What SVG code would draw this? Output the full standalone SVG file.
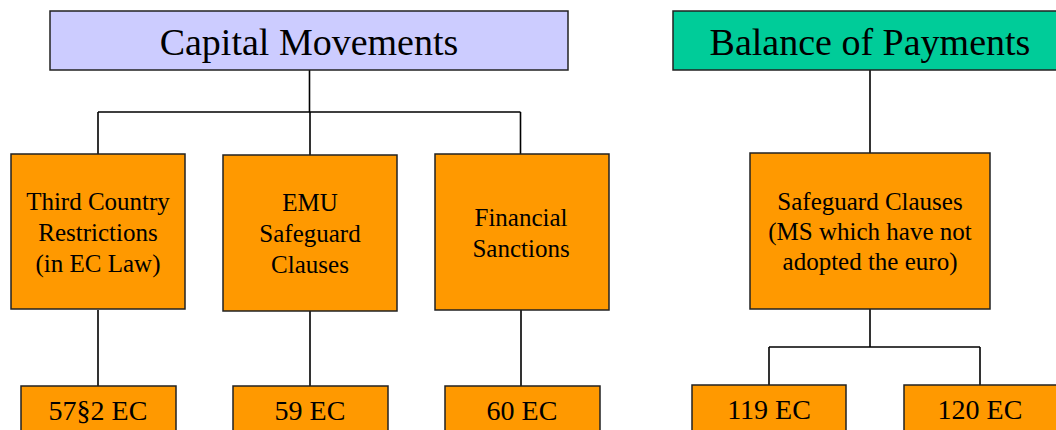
<svg xmlns="http://www.w3.org/2000/svg" width="1056" height="430" viewBox="0 0 1056 430">
<style>
.box{fill:#FF9900;stroke:#222;stroke-width:1.5}
.t{font-family:"Liberation Serif","Times New Roman",serif;fill:#000;text-anchor:middle}
.h{font-size:38px}
.m{font-size:25px}
.b{font-size:28px}
.c{fill:none;stroke:#000;stroke-width:1.6}
</style>
<rect width="1056" height="430" fill="#fff"/>
<g id="connectors">
<path class="c" d="M309.5 70V112M98 112H520.5M98 112V154M310 112V155M520.5 112V154"/>
<path class="c" d="M98 310V386M310 311V386M521 310V386"/>
<path class="c" d="M870 70V153"/>
<path class="c" d="M870 309V347M769 347H980M769 347V385M980 347V385"/>
</g>
<g id="capital">
<rect x="50" y="11" width="518" height="59" fill="#CCCCFF" stroke="#222" stroke-width="1.5"/>
<text class="t h" x="309" y="55">Capital Movements</text>
</g>
<g id="balance">
<rect x="673" y="11" width="394" height="59" fill="#00CC99" stroke="#222" stroke-width="1.5"/>
<text class="t h" x="870" y="55">Balance of Payments</text>
</g>
<g id="third">
<rect class="box" x="11" y="154" width="174" height="155"/>
<text class="t m" x="98" y="210">Third Country</text>
<text class="t m" x="98" y="241">Restrictions</text>
<text class="t m" x="98" y="272">(in EC Law)</text>
</g>
<g id="emu">
<rect class="box" x="223" y="155" width="174" height="156"/>
<text class="t m" x="310" y="211">EMU</text>
<text class="t m" x="310" y="242">Safeguard</text>
<text class="t m" x="310" y="273">Clauses</text>
</g>
<g id="financial">
<rect class="box" x="435" y="154" width="174" height="156"/>
<text class="t m" x="521" y="226">Financial</text>
<text class="t m" x="521" y="257">Sanctions</text>
</g>
<g id="safeguard">
<rect class="box" x="750" y="153" width="240" height="156"/>
<text class="t m" x="870" y="210">Safeguard Clauses</text>
<text class="t m" x="870" y="240">(MS which have not</text>
<text class="t m" x="870" y="270">adopted the euro)</text>
</g>
<g id="a57">
<rect class="box" x="21" y="386" width="155" height="60"/>
<text class="t b" x="98" y="420">57§2 EC</text>
</g>
<g id="a59">
<rect class="box" x="233" y="386" width="155" height="60"/>
<text class="t b" x="310" y="420">59 EC</text>
</g>
<g id="a60">
<rect class="box" x="445" y="386" width="155" height="60"/>
<text class="t b" x="522" y="420">60 EC</text>
</g>
<g id="a119">
<rect class="box" x="692" y="385" width="154" height="60"/>
<text class="t b" x="769" y="419">119 EC</text>
</g>
<g id="a120">
<rect class="box" x="904" y="385" width="160" height="60"/>
<text class="t b" x="980" y="419">120 EC</text>
</g>
</svg>
